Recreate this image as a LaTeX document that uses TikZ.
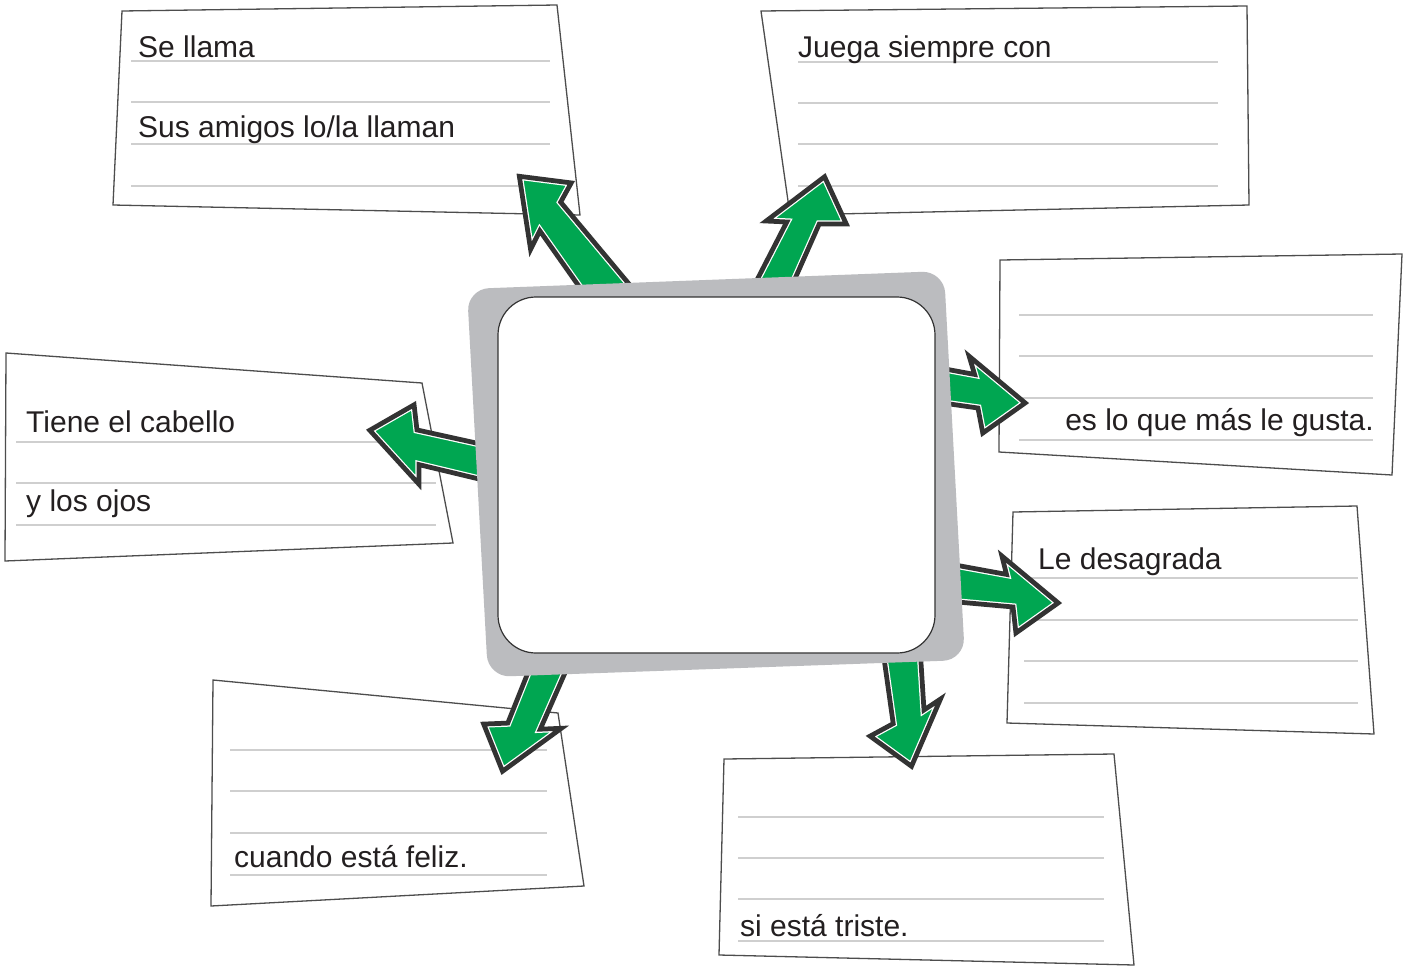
\documentclass[tikz,border=0pt]{standalone}
\usepackage{fontspec}
\setmainfont{Liberation Sans}
\definecolor{agreen}{HTML}{00A651}
\definecolor{adark}{HTML}{333333}
\definecolor{framegray}{HTML}{BBBCBF}
\definecolor{rulegray}{HTML}{CFCFCF}
\definecolor{boxline}{HTML}{4D4D4D}
\definecolor{txtcol}{HTML}{231F20}
% tip, corner1, notch1, tail1, tail2, notch2, corner2
\newcommand\myapath[7]{(#1) -- (#2) -- (#3) -- (#4) -- (#5) -- (#6) -- (#7) -- cycle}
\newcommand\grarrow[7]{%
  \fill[agreen] \myapath{#1}{#2}{#3}{#4}{#5}{#6}{#7};
  \begin{scope}
    \clip \myapath{#1}{#2}{#3}{#4}{#5}{#6}{#7};
    \draw[white,line width=9.5,line join=miter] \myapath{#1}{#2}{#3}{#4}{#5}{#6}{#7};
    \draw[adark,line width=7,line join=miter] \myapath{#1}{#2}{#3}{#4}{#5}{#6}{#7};
  \end{scope}
  \draw[adark,line width=2.5,line join=miter] \myapath{#1}{#2}{#3}{#4}{#5}{#6}{#7};}
\begin{document}
\begin{tikzpicture}[x=1pt,y=-1pt,
  card/.style={draw=boxline,line width=1.3,fill=white},
  rule/.style={draw=rulegray,line width=1.6},
  txt/.style={text=txtcol,inner sep=0pt,font=\fontsize{30}{36}\selectfont}]
\useasboundingbox[fill=white] (0,0) rectangle (1409,967);

% cards
\draw[card] (122,11) -- (557,5) -- (580,215) -- (113,205) -- cycle;
\foreach \yy in {61,102,144,186} \draw[rule] (131,\yy) -- (550,\yy);
\node[txt,anchor=base west] (t1) at (138,57) {Se llama};
\node[txt,anchor=base west] (t2) at (138,137) {Sus amigos lo/la llaman};

\draw[card] (761,11) -- (1247,6) -- (1249,205) -- (790,215) -- cycle;
\foreach \yy in {62,103,144,186} \draw[rule] (798,\yy) -- (1218,\yy);
\node[txt,anchor=base west] (t3) at (798,57) {Juega siempre con};

\draw[card] (1000,260) -- (1402,254) -- (1392,475) -- (999,452) -- cycle;
\foreach \yy in {315,356,398,440} \draw[rule] (1019,\yy) -- (1373,\yy);
\node[txt,anchor=base east] (t4) at (1374,430) {es lo que más le gusta.};

\draw[card] (6,353) -- (422,383) -- (453,543) -- (5,561) -- cycle;
\foreach \yy in {442,483,525} \draw[rule] (16,\yy) -- (436,\yy);
\node[txt,anchor=base west] (t5) at (26,432) {Tiene el cabello};
\node[txt,anchor=base west] (t6) at (26,511) {y los ojos};

\draw[card] (1013,512) -- (1357,506) -- (1374,734) -- (1007,723) -- cycle;
\foreach \yy in {578,620,661,703} \draw[rule] (1024,\yy) -- (1358,\yy);
\node[txt,anchor=base west] (t7) at (1038,569) {Le desagrada};

\draw[card] (213,680) -- (558,713) -- (584,886) -- (211,906) -- cycle;
\foreach \yy in {750,791,833,875} \draw[rule] (230,\yy) -- (547,\yy);
\node[txt,anchor=base west] (t8) at (234,867) {cuando está feliz.};

\draw[card] (724,759) -- (1114,754) -- (1134,965) -- (719,955) -- cycle;
\foreach \yy in {817,858,899,941} \draw[rule] (738,\yy) -- (1104,\yy);
\node[txt,anchor=base west] (t9) at (740,936) {si está triste.};

% arrows
\grarrow{518,175}{573,182}{562,202}{648,305}{595,311}{540,233}{530,253}
\grarrow{825,175}{848,225}{820,225}{789,295}{748,295}{785,223}{763,222}
\grarrow{368,430}{415,403}{418,429}{495,446}{495,484}{420,466}{420,487}
\grarrow{1027,403}{967,353}{973,373}{935,366}{935,403}{977,409}{982,435}
\grarrow{1060,603}{1000,553}{1005,573}{945,562}{945,602}{1012,608}{1015,635}
\grarrow{912,768}{943,696}{925,708}{921,645}{881,645}{892,723}{868,736}
\grarrow{502,773}{482,723}{507,722}{531,662}{571,662}{542,728}{565,727}

% central frame
\fill[framegray,rounded corners=22] (467,289) -- (944,271) -- (965,660) -- (488,677) -- cycle;
\draw[draw=adark,line width=1.2,fill=white,rounded corners=38] (498,297) rectangle (935,653);
\node[inner sep=0pt] (center) at (716,475) {};
\end{tikzpicture}
\end{document}
